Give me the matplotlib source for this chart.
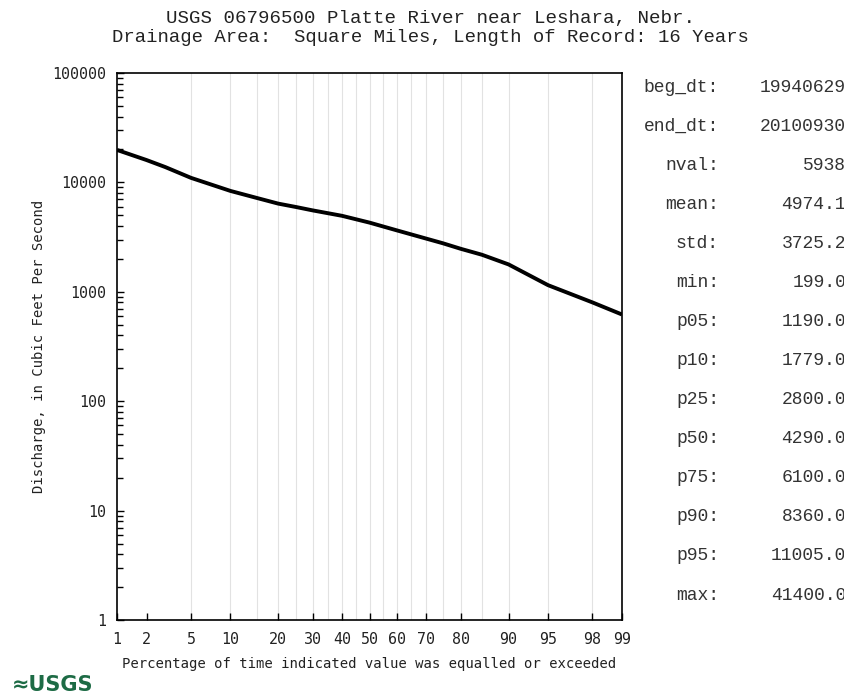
import numpy as np
import matplotlib
matplotlib.use("Agg")
import matplotlib.pyplot as plt
from matplotlib.ticker import FixedLocator, FixedFormatter, LogLocator, NullFormatter
from statistics import NormalDist

# ---- data ----
pct_exceeded = [1, 2, 3, 5, 10, 15, 20, 25, 30, 40, 50, 60, 70, 75, 80, 85, 90, 95, 98, 99]
discharge = [19800, 16000, 13800, 11005, 8360, 7200, 6400, 5950, 5550, 4950, 4290,
             3640, 3060, 2780, 2470, 2180, 1779, 1150, 800, 620]

x_ticks = [1, 2, 5, 10, 20, 30, 40, 50, 60, 70, 80, 90, 95, 98, 99]
x_grid = [5, 10, 15, 20, 25, 30, 35, 40, 45, 50, 55, 60, 65, 70, 75, 80, 85, 90, 95, 98]
y_ticks = [1, 10, 100, 1000, 10000, 100000]

stat_names = ["beg_dt:", "end_dt:", "nval:", "mean:", "std:", "min:", "p05:", "p10:",
              "p25:", "p50:", "p75:", "p90:", "p95:", "max:"]
stat_values = ["19940629", "20100930", "5938", "4974.1", "3725.2", "199.0", "1190.0",
               "1779.0", "2800.0", "4290.0", "6100.0", "8360.0", "11005.0", "41400.0"]

title1 = "USGS 06796500 Platte River near Leshara, Nebr."
title2 = "Drainage Area:  Square Miles, Length of Record: 16 Years"

# ---- probability scale ----
_nd = NormalDist()
_ppf = np.vectorize(_nd.inv_cdf, otypes=[float])
_cdf = np.vectorize(_nd.cdf, otypes=[float])

def fwd(p):
    p = np.clip(np.asarray(p, dtype=float) / 100.0, 1e-9, 1 - 1e-9)
    return _ppf(p)

def inv(z):
    return _cdf(np.asarray(z, dtype=float)) * 100.0

W, H = 845, 698
fig = plt.figure(figsize=(W / 100, H / 100), dpi=100)
ax = fig.add_axes([117 / W, 1 - 620 / H, (622 - 117) / W, (620 - 73) / H])

ax.set_xscale("function", functions=(fwd, inv))
ax.set_yscale("log")
ax.set_xlim(1, 99)
ax.set_ylim(1, 100000)

for g in x_grid:
    ax.axvline(g, color="#e2e2e2", lw=0.8, zorder=1)

ax.plot(pct_exceeded, discharge, color="black", lw=2.8, zorder=3, solid_capstyle="butt")

mono = "DejaVu Sans Mono"
ax.xaxis.set_major_locator(FixedLocator(x_ticks))
ax.xaxis.set_major_formatter(FixedFormatter([str(t) for t in x_ticks]))
ax.xaxis.set_minor_locator(FixedLocator([]))
ax.yaxis.set_major_locator(FixedLocator(y_ticks))
ax.yaxis.set_major_formatter(FixedFormatter([str(t) for t in y_ticks]))
ax.yaxis.set_minor_locator(LogLocator(base=10, subs=np.arange(2, 10)))
ax.yaxis.set_minor_formatter(NullFormatter())

ax.tick_params(axis="both", which="both", direction="in", colors="black",
               labelcolor="#222222", labelsize=10.8, width=1.0)
ax.tick_params(axis="x", which="major", length=5, pad=9)
ax.tick_params(axis="y", which="major", length=5, pad=8)
ax.tick_params(axis="y", which="minor", length=4)
ax.tick_params(top=False, right=False)
for lab in ax.get_xticklabels() + ax.get_yticklabels():
    lab.set_fontfamily(mono)

for s in ax.spines.values():
    s.set_linewidth(1.2)
    s.set_color("black")

ax.set_xlabel("Percentage of time indicated value was equalled or exceeded",
              fontfamily=mono, fontsize=10, color="#222222", labelpad=7)
ax.set_ylabel("Discharge, in Cubic Feet Per Second",
              fontfamily=mono, fontsize=10, color="#222222", labelpad=4)

serif_mono = "Liberation Mono"
fig.text(430 / W, 1 - 18 / H, title1, ha="center", va="center",
         fontfamily=serif_mono, fontsize=13.8, color="#222222")
fig.text(430 / W, 1 - 38 / H, title2, ha="center", va="center",
         fontfamily=serif_mono, fontsize=13.6, color="#222222")

y0, dy = 87, 39.08
for i, (n, v) in enumerate(zip(stat_names, stat_values)):
    yy = 1 - (y0 + i * dy) / H
    fig.text(719 / W, yy, n, ha="right", va="center", fontfamily=serif_mono,
             fontsize=13, color="#333333")
    fig.text(846 / W, yy, v, ha="right", va="center", fontfamily=serif_mono,
             fontsize=13, color="#333333")

fig.text(12 / W, 1 - 685 / H, "\u2248USGS", ha="left", va="center",
         fontfamily="DejaVu Sans", fontweight="bold", fontsize=15, color="#1d6b45")

fig.savefig("out.png", dpi=100)
